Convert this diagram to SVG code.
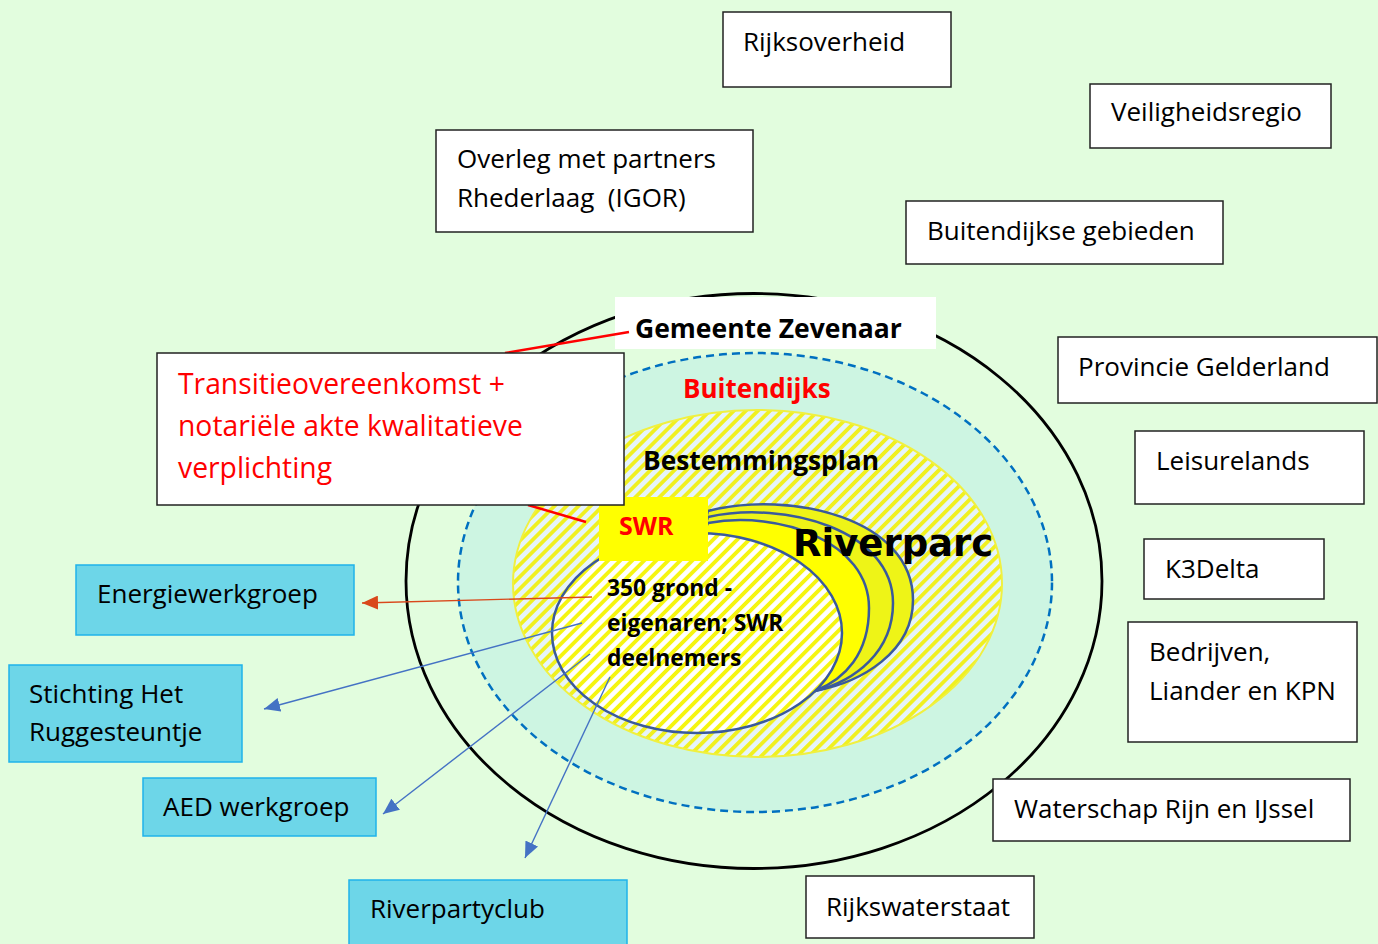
<svg xmlns="http://www.w3.org/2000/svg" width="1378" height="944" viewBox="0 0 1378 944">
<defs>
<style>
.t{font-family:"Open Sans","Noto Sans","Liberation Sans",sans-serif;font-size:26px;fill:#000;white-space:pre}
.tb{font-family:"Open Sans","Noto Sans","Liberation Sans",sans-serif;font-weight:bold;font-size:26.5px;fill:#000}
.red{fill:#ff0000}
.wbox{fill:#fff;stroke:#222;stroke-width:1.5}
.cbox{fill:#6dd6e8;stroke:#1fb3ea;stroke-width:1.5}
.blue{stroke:#4472c4;stroke-width:1.4;fill:none}
.cres{stroke:#3a5a9c;stroke-width:2.5}
</style>
<pattern id="hatchB" patternUnits="userSpaceOnUse" width="8.5" height="8.5" patternTransform="rotate(45)">
<rect width="8.5" height="8.5" fill="#e6f4fa"/>
<rect width="3.8" height="8.5" fill="#f0f020"/>
</pattern>
<pattern id="hatchW" patternUnits="userSpaceOnUse" width="8.5" height="8.5" patternTransform="rotate(45)">
<rect width="8.5" height="8.5" fill="#ffffff"/>
<rect width="3.8" height="8.5" fill="#f5f510"/>
</pattern>
<marker id="arB" markerUnits="userSpaceOnUse" markerWidth="17" markerHeight="14" refX="16" refY="7" orient="auto">
<path d="M0,0 L16,7 L0,14 z" fill="#4472c4"/>
</marker>
<marker id="arO" markerUnits="userSpaceOnUse" markerWidth="17" markerHeight="14" refX="16" refY="7" orient="auto">
<path d="M0,0 L16,7 L0,14 z" fill="#d9481b"/>
</marker>
</defs>
<rect width="1378" height="944" fill="#e2fdde"/>

<g id="rings">
<ellipse cx="754" cy="581" rx="348" ry="287.5" fill="#e2fdde" stroke="#000" stroke-width="2.8"/>
<ellipse cx="755" cy="582.5" rx="297" ry="229.5" fill="#cdf5e2" stroke="#0070c0" stroke-width="2.5" stroke-dasharray="8,5"/>
<ellipse cx="757.5" cy="583.5" rx="244.5" ry="173.5" fill="url(#hatchB)" stroke="#f0f040" stroke-width="2"/>
</g>

<g id="riverparc-shape">
<path class="cres" fill="#eef417" d="M708,511 C790,490 913,518 913,600 C913,652 862,682 815,691 L700,640 L700,540 Z"/>
<path class="cres" fill="#eef417" d="M708,517 C785,500 893,530 893,603 C893,652 855,681 815,691 L700,640 L700,540 Z"/>
<path class="cres" fill="#ffff00" d="M708,523 C780,510 869,542 869,608 C869,654 845,679 815,691 L700,640 L700,540 Z"/>
<ellipse cx="697" cy="633" rx="145" ry="100" fill="url(#hatchW)" stroke="#3a5a9c" stroke-width="2.5"/>
</g>

<g id="gemeente">
<rect x="615" y="297" width="321" height="52" fill="#fff"/>
<text class="tb" x="635" y="338">Gemeente Zevenaar</text>
</g>

<g id="connectors">
<line x1="505" y1="353" x2="629" y2="332" stroke="#ff0000" stroke-width="2.5"/>
<line x1="528" y1="505" x2="586" y2="522" stroke="#ff0000" stroke-width="2.5"/>
<line x1="592" y1="597" x2="362" y2="603" stroke="#d9481b" stroke-width="1.4" marker-end="url(#arO)"/>
<line class="blue" x1="582" y1="623" x2="264" y2="709" marker-end="url(#arB)"/>
<line class="blue" x1="590" y1="654" x2="383" y2="814" marker-end="url(#arB)"/>
<line class="blue" x1="610" y1="677" x2="525" y2="858" marker-end="url(#arB)"/>
</g>

<g id="buitendijks"><text class="tb red" x="683" y="398" style="font-size:26px">Buitendijks</text></g>
<g id="bestemmingsplan"><text class="tb" x="643" y="470" style="font-size:26.3px">Bestemmingsplan</text></g>
<g id="swr">
<rect x="599" y="497" width="109" height="64" fill="#ffff00"/>
<text class="tb red" x="619" y="535" style="font-size:25px">SWR</text>
</g>
<g id="riverparc"><text x="793" y="556" font-family="'DejaVu Sans',Verdana,sans-serif" font-weight="bold" font-size="37" fill="#000">Riverparc</text></g>
<g id="grondeigenaren">
<text class="tb" x="607" y="596" style="font-size:22.8px">350 grond -</text>
<text class="tb" x="607" y="631" style="font-size:22.8px">eigenaren; SWR</text>
<text class="tb" x="607" y="666" style="font-size:22.8px">deelnemers</text>
</g>

<g id="transitie">
<rect class="wbox" x="157" y="353" width="467" height="152"/>
<text class="t red" x="178" y="394" style="font-size:28.3px">Transitieovereenkomst +</text>
<text class="t red" x="178" y="436" style="font-size:28.3px">notariële akte kwalitatieve</text>
<text class="t red" x="178" y="478" style="font-size:28.3px">verplichting</text>
</g>

<g id="rijksoverheid"><rect class="wbox" x="723" y="12" width="228" height="75"/><text class="t" x="743" y="51">Rijksoverheid</text></g>
<g id="veiligheidsregio"><rect class="wbox" x="1090" y="84" width="241" height="64"/><text class="t" x="1111" y="121">Veiligheidsregio</text></g>
<g id="overleg"><rect class="wbox" x="436" y="130" width="317" height="102"/><text class="t" x="457" y="168">Overleg met partners</text><text class="t" x="457" y="207" xml:space="preserve">Rhederlaag  (IGOR)</text></g>
<g id="buitendijkse"><rect class="wbox" x="906" y="201" width="317" height="63"/><text class="t" x="927" y="240">Buitendijkse gebieden</text></g>
<g id="provincie"><rect class="wbox" x="1058" y="337" width="319" height="66"/><text class="t" x="1078" y="376">Provincie Gelderland</text></g>
<g id="leisurelands"><rect class="wbox" x="1135" y="431" width="229" height="73"/><text class="t" x="1156" y="470">Leisurelands</text></g>
<g id="k3delta"><rect class="wbox" x="1144" y="539" width="180" height="60"/><text class="t" x="1165" y="578">K3Delta</text></g>
<g id="bedrijven"><rect class="wbox" x="1128" y="622" width="229" height="120"/><text class="t" x="1149" y="661">Bedrijven,</text><text class="t" x="1149" y="700">Liander en KPN</text></g>
<g id="waterschap"><rect class="wbox" x="993" y="779" width="357" height="62"/><text class="t" x="1014" y="818">Waterschap Rijn en IJssel</text></g>
<g id="rijkswaterstaat"><rect class="wbox" x="806" y="876" width="228" height="62"/><text class="t" x="826" y="916">Rijkswaterstaat</text></g>

<g id="energiewerkgroep"><rect class="cbox" x="76" y="565" width="278" height="70"/><text class="t" x="97" y="603">Energiewerkgroep</text></g>
<g id="stichting"><rect class="cbox" x="9" y="665" width="233" height="97"/><text class="t" x="29" y="703">Stichting Het</text><text class="t" x="29" y="741">Ruggesteuntje</text></g>
<g id="aed"><rect class="cbox" x="143" y="778" width="233" height="58"/><text class="t" x="163" y="816">AED werkgroep</text></g>
<g id="riverpartyclub"><rect class="cbox" x="349" y="880" width="278" height="70"/><text class="t" x="370" y="918">Riverpartyclub</text></g>
</svg>
